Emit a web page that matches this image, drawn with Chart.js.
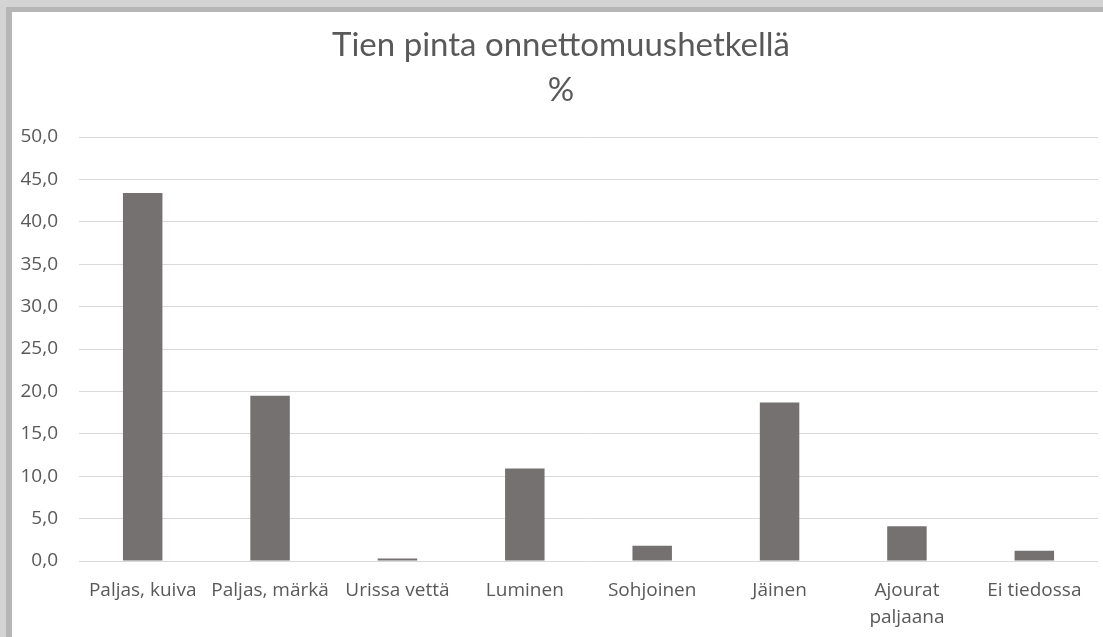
<!DOCTYPE html>
<html>
<head>
<meta charset="utf-8">
<script src="https://cdn.jsdelivr.net/npm/chart.js@4/dist/chart.umd.min.js"></script>
<style>
  html, body { margin: 0; padding: 0; width: 1103px; height: 637px; overflow: hidden; background: #d4d4d4; }
  #frame { position: absolute; left: 6px; top: 7px; width: 1097px; height: 630px; background: #b6b6b6; }
  #paper { position: absolute; left: 12px; top: 12px; width: 1091px; height: 625px; background: #ffffff; }
  #wrap { position: absolute; left: 0; top: 0; width: 1103px; height: 637px; }
  #title { position: absolute; left: 0; top: 21px; width: 1122px; text-align: center;
           font-family: 'Lato'; font-size: 33px; line-height: 44.5px; color: #595959; white-space: nowrap; }
</style>
</head>
<body>
<div id="frame"></div>
<div id="paper"></div>
<div id="wrap"><canvas id="c" width="1103" height="637"></canvas></div>
<div id="title"></div>
<script>
const titleLines = ['Tien pinta onnettomuushetkellä', '%'];
const categories = ['Paljas, kuiva', 'Paljas, märkä', 'Urissa vettä', 'Luminen', 'Sohjoinen', 'Jäinen', ['Ajourat', 'paljaana'], 'Ei tiedossa'];
const values = [43.4, 19.5, 0.3, 10.9, 1.8, 18.7, 4.1, 1.2];
const yTicks = [0, 5, 10, 15, 20, 25, 30, 35, 40, 45, 50];

const textColor = '#595959';
const gridColor = '#d9d9d9';

const titleEl = document.getElementById('title');
titleLines.forEach(t => { const d = document.createElement('div'); d.textContent = t; titleEl.appendChild(d); });

new Chart(document.getElementById('c'), {
  type: 'bar',
  data: {
    labels: categories,
    datasets: [{
      data: values,
      backgroundColor: '#767171',
      borderWidth: 0,
      barPercentage: 0.31,
      categoryPercentage: 1.0
    }]
  },
  options: {
    responsive: false,
    animation: false,
    layout: { padding: { left: 0, right: 5, top: 137, bottom: 0 } },
    plugins: {
      legend: { display: false },
      tooltip: { enabled: false },
      title: { display: false }
    },
    scales: {
      x: {
        grid: { display: false, drawTicks: false },
        border: { display: false },
        ticks: {
          color: textColor,
          font: { family: 'Open Sans', size: 19, lineHeight: 1.42 },
          padding: 16,
          maxRotation: 0,
          autoSkip: false
        },
        afterFit: (s) => { s.height = 76; }
      },
      y: {
        min: 0,
        max: 50,
        afterBuildTicks: (s) => { s.ticks = yTicks.map(v => ({ value: v })); },
        grid: { color: gridColor, lineWidth: 1, drawTicks: false },
        border: { display: false },
        ticks: {
          color: textColor,
          font: { family: 'Open Sans', size: 19 },
          padding: 21,
          callback: (v) => v.toFixed(1).replace('.', ',')
        },
        afterFit: (s) => { s.width = 79; }
      }
    }
  }
});
</script>
</body>
</html>
